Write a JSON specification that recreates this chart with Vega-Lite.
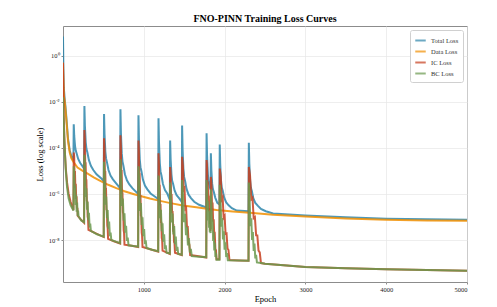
{
"$schema":"https://vega.github.io/schema/vega-lite/v6.json",
"width":404,"height":256,
"autosize":{"type":"none"},
"padding":{"left":63,"top":26,"right":30,"bottom":25},
"background":"white",
"title":{"text":"FNO-PINN Training Loss Curves","font":"Liberation Serif","fontSize":10,"fontWeight":"bold","anchor":"middle","offset":2,"color":"#000"},
"config":{"view":{"stroke":"#8c8c8c","strokeWidth":1},
"axis":{"labelFont":"Liberation Serif","titleFont":"Liberation Serif","labelFontSize":6.5,"titleFontSize":8.5,"titleFontWeight":"normal","labelColor":"#222","titleColor":"#000","gridColor":"#e6e6e6","gridWidth":0.7,"domain":false,"tickColor":"#8c8c8c","tickSize":2,"labelPadding":2}},
"data":{"values":[
{"s":"T","e":0,"v":6.8},{"s":"T","e":2,"v":2.0},{"s":"T","e":5,"v":0.25},{"s":"T","e":10,"v":0.04},{"s":"T","e":20,"v":0.014},{"s":"T","e":30,"v":0.0063},{"s":"T","e":42,"v":0.002},{"s":"T","e":62,"v":2.5e-4},{"s":"T","e":83,"v":7.9e-5},{"s":"T","e":104,"v":4.2e-5},{"s":"T","e":129,"v":2.8e-5},
{"s":"T","e":133,"v":1.07e-3},{"s":"T","e":136,"v":5.9e-4},{"s":"T","e":139,"v":3.3e-4},{"s":"T","e":143,"v":2.2e-4},{"s":"T","e":149,"v":1.2e-4},{"s":"T","e":158,"v":7.6e-5},{"s":"T","e":170,"v":5.6e-5},{"s":"T","e":188,"v":3.3e-5},{"s":"T","e":213,"v":2.2e-5},{"s":"T","e":243,"v":1.58e-5},{"s":"T","e":261,"v":1.26e-5},
{"s":"T","e":265,"v":6.5e-3},{"s":"T","e":268,"v":2.4e-3},{"s":"T","e":271,"v":9.1e-4},{"s":"T","e":275,"v":4.7e-4},{"s":"T","e":281,"v":1.78e-4},{"s":"T","e":290,"v":9.1e-5},{"s":"T","e":302,"v":6.3e-5},{"s":"T","e":320,"v":3.0e-5},{"s":"T","e":345,"v":1.66e-5},{"s":"T","e":375,"v":1.1e-5},{"s":"T","e":415,"v":7.1e-6},{"s":"T","e":475,"v":4.7e-6},{"s":"T","e":504,"v":3.6e-6},
{"s":"T","e":508,"v":2.95e-3},{"s":"T","e":511,"v":1.05e-3},{"s":"T","e":514,"v":3.9e-4},{"s":"T","e":518,"v":1.95e-4},{"s":"T","e":524,"v":6.9e-5},{"s":"T","e":533,"v":3.5e-5},{"s":"T","e":545,"v":2.3e-5},{"s":"T","e":563,"v":1.1e-5},{"s":"T","e":588,"v":6.3e-6},{"s":"T","e":618,"v":4.3e-6},{"s":"T","e":658,"v":2.9e-6},{"s":"T","e":707,"v":1.78e-6},
{"s":"T","e":711,"v":4.8e-3},{"s":"T","e":714,"v":1.45e-3},{"s":"T","e":717,"v":4.4e-4},{"s":"T","e":721,"v":1.95e-4},{"s":"T","e":727,"v":5.9e-5},{"s":"T","e":736,"v":2.6e-5},{"s":"T","e":748,"v":1.66e-5},{"s":"T","e":766,"v":7.2e-6},{"s":"T","e":791,"v":3.9e-6},{"s":"T","e":821,"v":2.6e-6},{"s":"T","e":861,"v":1.74e-6},{"s":"T","e":930,"v":1.0e-6},
{"s":"T","e":934,"v":2.6e-3},{"s":"T","e":937,"v":7.9e-4},{"s":"T","e":940,"v":2.4e-4},{"s":"T","e":944,"v":1.1e-4},{"s":"T","e":950,"v":3.2e-5},{"s":"T","e":959,"v":1.45e-5},{"s":"T","e":971,"v":9.5e-6},{"s":"T","e":989,"v":4.2e-6},{"s":"T","e":1014,"v":2.3e-6},{"s":"T","e":1044,"v":1.58e-6},{"s":"T","e":1084,"v":1.05e-6},{"s":"T","e":1144,"v":7.4e-7},{"s":"T","e":1178,"v":6.0e-7},
{"s":"T","e":1182,"v":1.95e-3},{"s":"T","e":1185,"v":5.8e-4},{"s":"T","e":1188,"v":1.7e-4},{"s":"T","e":1192,"v":7.6e-5},{"s":"T","e":1198,"v":2.2e-5},{"s":"T","e":1207,"v":9.5e-6},{"s":"T","e":1219,"v":6.2e-6},{"s":"T","e":1237,"v":2.7e-6},{"s":"T","e":1262,"v":1.48e-6},{"s":"T","e":1292,"v":1.02e-6},{"s":"T","e":1322,"v":5.6e-7},
{"s":"T","e":1326,"v":2.1e-4},{"s":"T","e":1329,"v":8.5e-5},{"s":"T","e":1332,"v":3.4e-5},{"s":"T","e":1336,"v":1.78e-5},{"s":"T","e":1342,"v":7.1e-6},{"s":"T","e":1351,"v":3.7e-6},{"s":"T","e":1363,"v":2.7e-6},{"s":"T","e":1381,"v":1.41e-6},{"s":"T","e":1406,"v":8.9e-7},{"s":"T","e":1436,"v":6.6e-7},{"s":"T","e":1470,"v":4.5e-7},
{"s":"T","e":1474,"v":9.3e-4},{"s":"T","e":1477,"v":2.9e-4},{"s":"T","e":1480,"v":8.9e-5},{"s":"T","e":1484,"v":4.0e-5},{"s":"T","e":1490,"v":1.23e-5},{"s":"T","e":1499,"v":5.5e-6},{"s":"T","e":1511,"v":3.7e-6},{"s":"T","e":1529,"v":1.66e-6},{"s":"T","e":1554,"v":9.3e-7},{"s":"T","e":1584,"v":6.6e-7},{"s":"T","e":1624,"v":4.6e-7},{"s":"T","e":1684,"v":3.4e-7},{"s":"T","e":1773,"v":2.6e-7},
{"s":"T","e":1777,"v":4.3e-4},{"s":"T","e":1780,"v":1.41e-4},{"s":"T","e":1783,"v":4.7e-5},{"s":"T","e":1787,"v":2.2e-5},{"s":"T","e":1793,"v":7.1e-6},{"s":"T","e":1802,"v":3.3e-6},{"s":"T","e":1814,"v":2.24e-6},{"s":"T","e":1826,"v":1.58e-6},
{"s":"T","e":1830,"v":5.9e-5},{"s":"T","e":1833,"v":2.6e-5},{"s":"T","e":1836,"v":1.12e-5},{"s":"T","e":1840,"v":6.5e-6},{"s":"T","e":1846,"v":2.8e-6},{"s":"T","e":1855,"v":1.62e-6},{"s":"T","e":1867,"v":1.2e-6},{"s":"T","e":1885,"v":6.8e-7},{"s":"T","e":1910,"v":4.1e-7},{"s":"T","e":1936,"v":3.5e-7},
{"s":"T","e":1940,"v":1.41e-4},{"s":"T","e":1943,"v":5.2e-5},{"s":"T","e":1946,"v":1.95e-5},{"s":"T","e":1950,"v":1.0e-5},{"s":"T","e":1956,"v":3.7e-6},{"s":"T","e":1965,"v":1.9e-6},{"s":"T","e":1977,"v":1.38e-6},{"s":"T","e":1995,"v":6.9e-7},{"s":"T","e":2020,"v":4.3e-7},{"s":"T","e":2050,"v":3.2e-7},{"s":"T","e":2090,"v":2.4e-7},{"s":"T","e":2150,"v":1.9e-7},{"s":"T","e":2296,"v":1.78e-7},
{"s":"T","e":2300,"v":1.66e-4},{"s":"T","e":2303,"v":5.9e-5},{"s":"T","e":2306,"v":2.1e-5},{"s":"T","e":2310,"v":1.07e-5},{"s":"T","e":2316,"v":3.8e-6},{"s":"T","e":2325,"v":1.9e-6},{"s":"T","e":2337,"v":1.35e-6},{"s":"T","e":2355,"v":6.6e-7},{"s":"T","e":2380,"v":4.1e-7},{"s":"T","e":2410,"v":3.1e-7},{"s":"T","e":2450,"v":2.24e-7},{"s":"T","e":2510,"v":1.78e-7},{"s":"T","e":2600,"v":1.41e-7},{"s":"T","e":3000,"v":1.17e-7},{"s":"T","e":3500,"v":9.8e-8},{"s":"T","e":4000,"v":8.5e-8},{"s":"T","e":4500,"v":7.9e-8},{"s":"T","e":5000,"v":7.6e-8},
{"s":"D","e":0,"v":0.5},{"s":"D","e":4,"v":0.1},{"s":"D","e":10,"v":0.02},{"s":"D","e":20,"v":0.0112},{"s":"D","e":30,"v":0.005},{"s":"D","e":42,"v":0.00158},{"s":"D","e":62,"v":2.0e-4},{"s":"D","e":83,"v":6.3e-5},{"s":"D","e":104,"v":3.55e-5},{"s":"D","e":128,"v":2.5e-5},{"s":"D","e":180,"v":1.41e-5},{"s":"D","e":244,"v":1.0e-5},{"s":"D","e":300,"v":7.9e-6},{"s":"D","e":380,"v":5.25e-6},{"s":"D","e":455,"v":3.8e-6},{"s":"D","e":560,"v":2.5e-6},{"s":"D","e":660,"v":1.78e-6},{"s":"D","e":760,"v":1.32e-6},{"s":"D","e":870,"v":1.0e-6},{"s":"D","e":970,"v":7.9e-7},{"s":"D","e":1074,"v":6.3e-7},{"s":"D","e":1200,"v":5.0e-7},{"s":"D","e":1330,"v":4.0e-7},{"s":"D","e":1483,"v":3.16e-7},{"s":"D","e":1650,"v":2.63e-7},{"s":"D","e":1800,"v":2.24e-7},{"s":"D","e":1901,"v":2.0e-7},{"s":"D","e":2100,"v":1.74e-7},{"s":"D","e":2350,"v":1.48e-7},{"s":"D","e":2600,"v":1.26e-7},{"s":"D","e":3000,"v":1.05e-7},{"s":"D","e":3500,"v":8.7e-8},{"s":"D","e":4000,"v":7.6e-8},{"s":"D","e":4500,"v":7.1e-8},{"s":"D","e":5000,"v":6.8e-8},
{"s":"I","e":0,"v":0.5},{"s":"I","e":3,"v":0.1},{"s":"I","e":6,"v":0.0158},{"s":"I","e":10,"v":2.5e-3},{"s":"I","e":16,"v":3.16e-4},{"s":"I","e":25,"v":5.0e-5},{"s":"I","e":35,"v":1.26e-5},{"s":"I","e":50,"v":3.16e-6},{"s":"I","e":70,"v":1.0e-6},{"s":"I","e":95,"v":4.5e-7},{"s":"I","e":129,"v":2.0e-7},
{"s":"I","e":133,"v":6.3e-5},{"s":"I","e":138,"v":4.4e-5},{"s":"I","e":143,"v":6.2e-6},{"s":"I","e":148,"v":1.0e-5},{"s":"I","e":153,"v":1.8e-6},{"s":"I","e":158,"v":2.8e-6},{"s":"I","e":163,"v":6.0e-7},{"s":"I","e":168,"v":8.0e-7},{"s":"I","e":173,"v":2.3e-7},{"s":"I","e":178,"v":2.5e-7},{"s":"I","e":183,"v":1.12e-7},{"s":"I","e":220,"v":7.9e-8},{"s":"I","e":261,"v":5.6e-8},
{"s":"I","e":265,"v":5.9e-4},{"s":"I","e":270,"v":2.3e-4},{"s":"I","e":275,"v":2.1e-5},{"s":"I","e":280,"v":2.4e-5},{"s":"I","e":285,"v":3.0e-6},{"s":"I","e":290,"v":3.2e-6},{"s":"I","e":295,"v":5.1e-7},{"s":"I","e":300,"v":4.9e-7},{"s":"I","e":305,"v":1.03e-7},{"s":"I","e":310,"v":8.3e-8},{"s":"I","e":315,"v":2.8e-8},{"s":"I","e":400,"v":2.0e-8},{"s":"I","e":504,"v":1.35e-8},
{"s":"I","e":508,"v":2.6e-4},{"s":"I","e":513,"v":1.0e-4},{"s":"I","e":518,"v":9.1e-6},{"s":"I","e":523,"v":1.0e-5},{"s":"I","e":528,"v":1.25e-6},{"s":"I","e":533,"v":1.34e-6},{"s":"I","e":538,"v":2.1e-7},{"s":"I","e":543,"v":2.0e-7},{"s":"I","e":548,"v":4.2e-8},{"s":"I","e":553,"v":3.3e-8},{"s":"I","e":558,"v":1.12e-8},{"s":"I","e":630,"v":8.9e-9},{"s":"I","e":707,"v":7.1e-9},
{"s":"I","e":711,"v":3.5e-4},{"s":"I","e":716,"v":1.2e-4},{"s":"I","e":721,"v":9.75e-6},{"s":"I","e":726,"v":9.8e-6},{"s":"I","e":731,"v":1.12e-6},{"s":"I","e":736,"v":1.1e-6},{"s":"I","e":741,"v":1.59e-7},{"s":"I","e":746,"v":1.41e-7},{"s":"I","e":751,"v":2.7e-8},{"s":"I","e":756,"v":2.0e-8},{"s":"I","e":761,"v":6.3e-9},{"s":"I","e":850,"v":5.6e-9},{"s":"I","e":930,"v":5.0e-9},
{"s":"I","e":934,"v":2.1e-4},{"s":"I","e":939,"v":7.6e-5},{"s":"I","e":944,"v":6.3e-6},{"s":"I","e":949,"v":6.5e-6},{"s":"I","e":954,"v":7.7e-7},{"s":"I","e":959,"v":7.8e-7},{"s":"I","e":964,"v":1.15e-7},{"s":"I","e":969,"v":1.04e-7},{"s":"I","e":974,"v":2.1e-8},{"s":"I","e":979,"v":1.57e-8},{"s":"I","e":984,"v":5.0e-9},{"s":"I","e":1080,"v":4.0e-9},{"s":"I","e":1178,"v":3.16e-9},
{"s":"I","e":1182,"v":5.8e-5},{"s":"I","e":1187,"v":2.4e-5},{"s":"I","e":1192,"v":2.2e-6},{"s":"I","e":1197,"v":2.5e-6},{"s":"I","e":1202,"v":3.3e-7},{"s":"I","e":1207,"v":3.7e-7},{"s":"I","e":1212,"v":5.9e-8},{"s":"I","e":1217,"v":5.8e-8},{"s":"I","e":1222,"v":1.25e-8},{"s":"I","e":1227,"v":1.03e-8},{"s":"I","e":1232,"v":3.5e-9},{"s":"I","e":1322,"v":2.5e-9},
{"s":"I","e":1326,"v":1.48e-5},{"s":"I","e":1332,"v":7.3e-6},{"s":"I","e":1338,"v":7.8e-7},{"s":"I","e":1344,"v":1.0e-6},{"s":"I","e":1350,"v":1.46e-7},{"s":"I","e":1356,"v":1.8e-7},{"s":"I","e":1362,"v":3.2e-8},{"s":"I","e":1368,"v":3.5e-8},{"s":"I","e":1374,"v":8.2e-9},{"s":"I","e":1380,"v":7.4e-9},{"s":"I","e":1386,"v":2.8e-9},{"s":"I","e":1470,"v":2.24e-9},
{"s":"I","e":1474,"v":4.1e-5},{"s":"I","e":1484,"v":1.65e-5},{"s":"I","e":1494,"v":1.53e-6},{"s":"I","e":1504,"v":1.73e-6},{"s":"I","e":1514,"v":2.2e-7},{"s":"I","e":1524,"v":2.4e-7},{"s":"I","e":1534,"v":3.9e-8},{"s":"I","e":1544,"v":3.8e-8},{"s":"I","e":1554,"v":8.0e-9},{"s":"I","e":1564,"v":6.5e-9},{"s":"I","e":1574,"v":2.24e-9},{"s":"I","e":1680,"v":2.0e-9},{"s":"I","e":1773,"v":1.74e-9},
{"s":"I","e":1777,"v":2.95e-5},{"s":"I","e":1782,"v":1.84e-5},{"s":"I","e":1787,"v":2.4e-6},{"s":"I","e":1792,"v":3.5e-6},{"s":"I","e":1797,"v":6.0e-7},{"s":"I","e":1802,"v":8.5e-7},{"s":"I","e":1807,"v":1.73e-7},{"s":"I","e":1812,"v":2.1e-7},{"s":"I","e":1817,"v":5.8e-8},{"s":"I","e":1822,"v":5.9e-8},{"s":"I","e":1826,"v":2.5e-8},
{"s":"I","e":1830,"v":5.5e-6},{"s":"I","e":1837,"v":2.85e-6},{"s":"I","e":1844,"v":3.2e-7},{"s":"I","e":1851,"v":4.2e-7},{"s":"I","e":1858,"v":6.3e-8},{"s":"I","e":1865,"v":8.0e-8},{"s":"I","e":1872,"v":1.48e-8},{"s":"I","e":1879,"v":1.65e-8},{"s":"I","e":1886,"v":4.0e-9},{"s":"I","e":1893,"v":3.7e-9},{"s":"I","e":1900,"v":1.45e-9},{"s":"I","e":1936,"v":1.45e-9},
{"s":"I","e":1940,"v":1.26e-5},{"s":"I","e":1952,"v":5.7e-6},{"s":"I","e":1964,"v":5.7e-7},{"s":"I","e":1976,"v":6.9e-7},{"s":"I","e":1988,"v":9.4e-8},{"s":"I","e":2000,"v":1.1e-7},{"s":"I","e":2012,"v":1.86e-8},{"s":"I","e":2024,"v":1.93e-8},{"s":"I","e":2036,"v":4.3e-9},{"s":"I","e":2048,"v":3.7e-9},{"s":"I","e":2060,"v":1.35e-9},{"s":"I","e":2180,"v":1.29e-9},{"s":"I","e":2296,"v":1.26e-9},
{"s":"I","e":2300,"v":1.48e-5},{"s":"I","e":2315,"v":6.2e-6},{"s":"I","e":2330,"v":5.9e-7},{"s":"I","e":2345,"v":6.8e-7},{"s":"I","e":2360,"v":8.9e-8},{"s":"I","e":2375,"v":9.9e-8},{"s":"I","e":2390,"v":1.61e-8},{"s":"I","e":2405,"v":1.6e-8},{"s":"I","e":2420,"v":3.5e-9},{"s":"I","e":2435,"v":2.9e-9},{"s":"I","e":2450,"v":1.0e-9},{"s":"I","e":2500,"v":9.3e-10},{"s":"I","e":3000,"v":6.8e-10},{"s":"I","e":3500,"v":5.9e-10},{"s":"I","e":4000,"v":5.4e-10},{"s":"I","e":4500,"v":5.0e-10},{"s":"I","e":5000,"v":4.7e-10},
{"s":"B","e":0,"v":0.0158},{"s":"B","e":3,"v":6.3e-3},{"s":"B","e":6,"v":2.5e-3},{"s":"B","e":10,"v":1.0e-3},{"s":"B","e":16,"v":2.5e-4},{"s":"B","e":25,"v":5.0e-5},{"s":"B","e":35,"v":1.0e-5},{"s":"B","e":50,"v":2.0e-6},{"s":"B","e":70,"v":6.3e-7},{"s":"B","e":95,"v":3.16e-7},{"s":"B","e":129,"v":1.9e-7},
{"s":"B","e":133,"v":1.58e-5},{"s":"B","e":139,"v":7.3e-6},{"s":"B","e":145,"v":7.5e-7},{"s":"B","e":151,"v":2.3e-6},{"s":"B","e":157,"v":3.3e-7},{"s":"B","e":163,"v":9.1e-7},{"s":"B","e":169,"v":1.7e-7},{"s":"B","e":175,"v":4.2e-7},{"s":"B","e":181,"v":1.12e-7},{"s":"B","e":187,"v":1.9e-7},{"s":"B","e":193,"v":1.05e-7},{"s":"B","e":225,"v":7.1e-8},{"s":"B","e":261,"v":5.9e-8},
{"s":"B","e":265,"v":5.0e-5},{"s":"B","e":273,"v":1.02e-5},{"s":"B","e":281,"v":7.5e-7},{"s":"B","e":289,"v":1.75e-6},{"s":"B","e":297,"v":2.06e-7},{"s":"B","e":305,"v":4.6e-7},{"s":"B","e":313,"v":7.3e-8},{"s":"B","e":321,"v":1.54e-7},{"s":"B","e":329,"v":3.5e-8},{"s":"B","e":337,"v":5.2e-8},{"s":"B","e":345,"v":2.5e-8},{"s":"B","e":420,"v":1.78e-8},{"s":"B","e":504,"v":1.41e-8},
{"s":"B","e":508,"v":2.5e-5},{"s":"B","e":517,"v":4.7e-6},{"s":"B","e":526,"v":3.4e-7},{"s":"B","e":535,"v":7.7e-7},{"s":"B","e":544,"v":8.9e-8},{"s":"B","e":553,"v":2.0e-7},{"s":"B","e":562,"v":3.1e-8},{"s":"B","e":571,"v":6.4e-8},{"s":"B","e":580,"v":1.45e-8},{"s":"B","e":589,"v":2.1e-8},{"s":"B","e":598,"v":1.0e-8},{"s":"B","e":660,"v":8.3e-9},{"s":"B","e":707,"v":7.4e-9},
{"s":"B","e":711,"v":3.16e-5},{"s":"B","e":721,"v":4.7e-6},{"s":"B","e":731,"v":3.0e-7},{"s":"B","e":741,"v":6.4e-7},{"s":"B","e":751,"v":7.0e-8},{"s":"B","e":761,"v":1.46e-7},{"s":"B","e":771,"v":2.1e-8},{"s":"B","e":781,"v":4.2e-8},{"s":"B","e":791,"v":9.2e-9},{"s":"B","e":801,"v":1.29e-8},{"s":"B","e":811,"v":5.9e-9},{"s":"B","e":870,"v":5.5e-9},{"s":"B","e":930,"v":5.2e-9},
{"s":"B","e":934,"v":1.58e-5},{"s":"B","e":944,"v":2.7e-6},{"s":"B","e":954,"v":1.83e-7},{"s":"B","e":964,"v":4.0e-7},{"s":"B","e":974,"v":4.5e-8},{"s":"B","e":984,"v":9.8e-8},{"s":"B","e":994,"v":1.48e-8},{"s":"B","e":1004,"v":3.0e-8},{"s":"B","e":1014,"v":6.7e-9},{"s":"B","e":1024,"v":9.6e-9},{"s":"B","e":1034,"v":4.5e-9},{"s":"B","e":1100,"v":3.8e-9},{"s":"B","e":1178,"v":3.3e-9},
{"s":"B","e":1182,"v":6.3e-6},{"s":"B","e":1192,"v":1.23e-6},{"s":"B","e":1202,"v":9.0e-8},{"s":"B","e":1212,"v":2.06e-7},{"s":"B","e":1222,"v":2.4e-8},{"s":"B","e":1232,"v":5.4e-8},{"s":"B","e":1242,"v":8.4e-9},{"s":"B","e":1252,"v":1.76e-8},{"s":"B","e":1262,"v":4.0e-9},{"s":"B","e":1272,"v":5.9e-9},{"s":"B","e":1282,"v":2.8e-9},{"s":"B","e":1322,"v":2.6e-9},
{"s":"B","e":1326,"v":3.16e-6},{"s":"B","e":1336,"v":7.4e-7},{"s":"B","e":1346,"v":5.8e-8},{"s":"B","e":1356,"v":1.42e-7},{"s":"B","e":1366,"v":1.74e-8},{"s":"B","e":1376,"v":4.1e-8},{"s":"B","e":1386,"v":6.6e-9},{"s":"B","e":1396,"v":1.43e-8},{"s":"B","e":1406,"v":3.4e-9},{"s":"B","e":1416,"v":5.1e-9},{"s":"B","e":1426,"v":2.5e-9},{"s":"B","e":1470,"v":2.3e-9},
{"s":"B","e":1474,"v":4.0e-6},{"s":"B","e":1486,"v":8.1e-7},{"s":"B","e":1498,"v":6.0e-8},{"s":"B","e":1510,"v":1.39e-7},{"s":"B","e":1522,"v":1.64e-8},{"s":"B","e":1534,"v":3.7e-8},{"s":"B","e":1546,"v":5.8e-9},{"s":"B","e":1558,"v":1.22e-8},{"s":"B","e":1570,"v":2.8e-9},{"s":"B","e":1582,"v":4.1e-9},{"s":"B","e":1594,"v":2.0e-9},{"s":"B","e":1680,"v":1.9e-9},{"s":"B","e":1773,"v":1.82e-9},
{"s":"B","e":1777,"v":4.0e-6},{"s":"B","e":1782,"v":1.67e-6},{"s":"B","e":1787,"v":1.67e-7},{"s":"B","e":1792,"v":4.9e-7},{"s":"B","e":1797,"v":7.0e-8},{"s":"B","e":1802,"v":1.88e-7},{"s":"B","e":1807,"v":3.4e-8},{"s":"B","e":1812,"v":8.4e-8},{"s":"B","e":1817,"v":2.2e-8},{"s":"B","e":1822,"v":3.7e-8},{"s":"B","e":1826,"v":2.0e-8},
{"s":"B","e":1830,"v":1.58e-6},{"s":"B","e":1837,"v":3.8e-7},{"s":"B","e":1844,"v":3.0e-8},{"s":"B","e":1851,"v":7.5e-8},{"s":"B","e":1858,"v":9.2e-9},{"s":"B","e":1865,"v":2.2e-8},{"s":"B","e":1872,"v":3.5e-9},{"s":"B","e":1879,"v":7.7e-9},{"s":"B","e":1886,"v":1.84e-9},{"s":"B","e":1893,"v":2.8e-9},{"s":"B","e":1900,"v":1.38e-9},{"s":"B","e":1936,"v":1.38e-9},
{"s":"B","e":1940,"v":2.5e-6},{"s":"B","e":1950,"v":5.2e-7},{"s":"B","e":1960,"v":3.8e-8},{"s":"B","e":1970,"v":9.0e-8},{"s":"B","e":1980,"v":1.06e-8},{"s":"B","e":1990,"v":2.4e-8},{"s":"B","e":2000,"v":3.8e-9},{"s":"B","e":2010,"v":8.0e-9},{"s":"B","e":2020,"v":1.85e-9},{"s":"B","e":2030,"v":2.7e-9},{"s":"B","e":2040,"v":1.32e-9},{"s":"B","e":2180,"v":1.29e-9},{"s":"B","e":2296,"v":1.26e-9},
{"s":"B","e":2300,"v":3.16e-6},{"s":"B","e":2310,"v":5.7e-7},{"s":"B","e":2320,"v":4.0e-8},{"s":"B","e":2330,"v":8.9e-8},{"s":"B","e":2340,"v":1.02e-8},{"s":"B","e":2350,"v":2.2e-8},{"s":"B","e":2360,"v":3.4e-9},{"s":"B","e":2370,"v":7.0e-9},{"s":"B","e":2380,"v":1.58e-9},{"s":"B","e":2390,"v":2.3e-9},{"s":"B","e":2400,"v":1.07e-9},{"s":"B","e":2450,"v":1.0e-9},{"s":"B","e":2500,"v":9.3e-10},{"s":"B","e":3000,"v":6.8e-10},{"s":"B","e":3500,"v":5.9e-10},{"s":"B","e":4000,"v":5.4e-10},{"s":"B","e":4500,"v":5.0e-10},{"s":"B","e":5000,"v":4.7e-10}
]},
"mark":{"type":"line","strokeWidth":2,"opacity":0.85,"clip":true},
"encoding":{
"x":{"field":"e","type":"quantitative","scale":{"domain":[0,5000],"nice":false,"zero":false},"axis":{"title":"Epoch","values":[1000,2000,3000,4000,5000],"format":"d","titlePadding":2}},
"y":{"field":"v","type":"quantitative","scale":{"type":"log","domain":[1.51e-10,19.5],"nice":false},"axis":{"title":"Loss (log scale)","values":[1,0.01,0.0001,0.000001,0.00000001],"labelExpr":"datum.value >= 0.5 ? '10⁰' : datum.value >= 0.005 ? '10⁻²' : datum.value >= 0.00005 ? '10⁻⁴' : datum.value >= 5e-7 ? '10⁻⁶' : '10⁻⁸'","titlePadding":4}},
"color":{"field":"s","type":"nominal","sort":null,"scale":{"domain":["T","D","I","B"],"range":["#2E86AB","#F18F01","#C73E1D","#6A994E"]},
"legend":{"title":null,"orient":"top-right","offset":4,"labelExpr":"{'T':'Total Loss','D':'Data Loss','I':'IC Loss','B':'BC Loss'}[datum.label]","symbolType":"stroke","symbolStrokeWidth":2,"symbolSize":110,"symbolOpacity":0.7,"labelFont":"Liberation Serif","labelFontSize":6.5,"labelColor":"#333","rowPadding":0,"padding":4,"strokeColor":"#d0d0d0","fillColor":"white","cornerRadius":2}}
}
}
